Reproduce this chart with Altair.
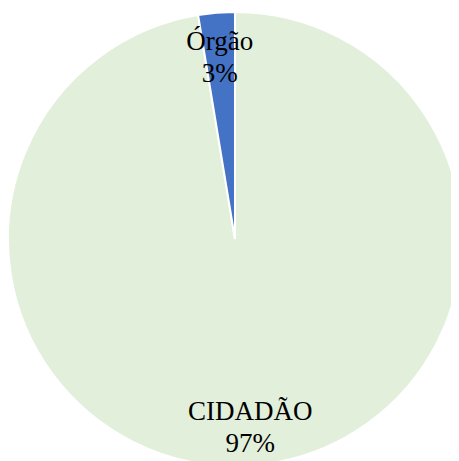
import altair as alt
import pandas as pd

categories = ["CIDADÃO", "Órgão"]
values = [97.4, 2.6]
labels = ["97%", "3%"]
colors = ["#E2EFDA", "#4472C4"]

df = pd.DataFrame({
    "categoria": categories,
    "valor": values,
    "ordem": list(range(len(categories))),
    "rotulo": [f"{c}\n{p}" for c, p in zip(categories, labels)],
})

base = alt.Chart(df).encode(
    theta=alt.Theta("valor:Q", stack=True),
    order=alt.Order("ordem:Q"),
    x=alt.value(227),
    y=alt.value(231),
)

arcs = base.mark_arc(radius=227, stroke="white", strokeWidth=2).encode(
    color=alt.Color("categoria:N", scale=alt.Scale(domain=categories, range=colors), legend=None)
)

text = base.mark_text(
    radius=186, dy=-12, font="Liberation Serif", fontSize=27, lineBreak="\n",
    lineHeight=32, color="black", align="center", baseline="middle"
).encode(text="rotulo:N")

chart = (arcs + text).properties(
    width=443, height=453, padding=0,
    autosize=alt.AutoSizeParams(type="none"),
).configure_view(stroke=None)

chart.save("out.html", embed_options={"renderer": "svg", "actions": False})
